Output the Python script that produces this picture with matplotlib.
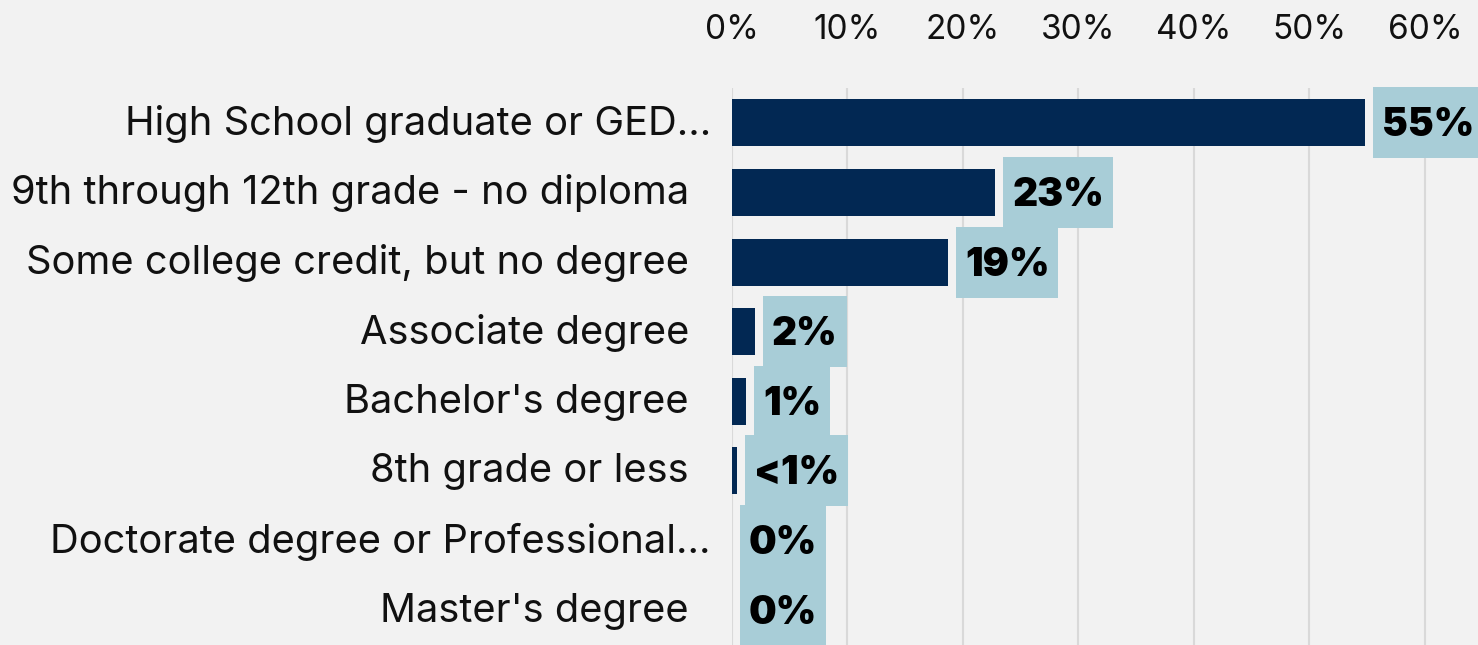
#!/usr/bin/env python3
"""Horizontal bar chart: educational attainment shares."""

import matplotlib
matplotlib.use("Agg")
import matplotlib.pyplot as plt
from matplotlib.patches import Rectangle

categories = [
    "High School graduate or GED…",
    "9th through 12th grade - no diploma",
    "Some college credit, but no degree",
    "Associate degree",
    "Bachelor's degree",
    "8th grade or less",
    "Doctorate degree or Professional…",
    "Master's degree",
]
shares = [54.8, 22.8, 18.7, 2.0, 1.2, 0.4, 0.0, 0.0]
share_labels = ["55%", "23%", "19%", "2%", "1%", "<1%", "0%", "0%"]
tick_values = [0, 10, 20, 30, 40, 50, 60]
tick_labels = ["0%", "10%", "20%", "30%", "40%", "50%", "60%"]

BG = "#f2f2f2"
NAVY = "#022853"
BOX = "#a8cdd7"
GRID = "#d9d9d9"
FONT = "Inter"

W, H, DPI = 1478, 645, 100
fig = plt.figure(figsize=(W / DPI, H / DPI), dpi=DPI, facecolor=BG)
ax = fig.add_axes([732 / W, 0, (W - 732) / W, 557 / H])
ax.set_facecolor(BG)

ypos = list(range(len(categories)))
ax.barh(ypos, shares, height=0.675, color=NAVY, zorder=3)

ax.set_xlim(0, 64.6)
ax.set_ylim(len(categories) - 0.5, -0.5)
ax.set_xticks(tick_values)
ax.set_xticklabels(tick_labels, fontsize=24, family=FONT, color="#111111")
ax.xaxis.tick_top()
ax.tick_params(axis="x", length=0, pad=30)
ax.set_yticks([])
ax.grid(axis="x", color=GRID, lw=1.5, zorder=0)
for s in ax.spines.values():
    s.set_visible(False)

# category labels; truncated ones let the ellipsis hang further right
px = 72 / DPI
for y, name in zip(ypos, categories):
    right = -21 if name.endswith("…") else -43
    ax.annotate(name, (0, y), xytext=(right * px, -1 * px), textcoords="offset points",
                ha="right", va="center", fontsize=28.7, family=FONT, color="#111111",
                annotation_clip=False)

texts = []
for y, v, lab in zip(ypos, shares, share_labels):
    t = ax.annotate(lab, (v, y), xytext=(17 * px, -3 * px), textcoords="offset points",
                    ha="left", va="center", fontsize=28, fontweight="black",
                    family=FONT, color="black", zorder=5, annotation_clip=False)
    texts.append(t)

fig.canvas.draw()
renderer = fig.canvas.get_renderer()
unit_px = ax.transData.transform((1, 0))[0] - ax.transData.transform((0, 0))[0]
for y, v, t in zip(ypos, shares, texts):
    ext = t.get_window_extent(renderer)
    x0 = v + 8 / unit_px
    x1 = ax.transData.inverted().transform((ext.x1 + 9, 0))[0]
    ax.add_patch(Rectangle((x0, y - 0.51), x1 - x0, 1.02, facecolor=BOX,
                           edgecolor="none", zorder=4, clip_on=False))

fig.savefig("out.png", dpi=DPI, facecolor=BG)
